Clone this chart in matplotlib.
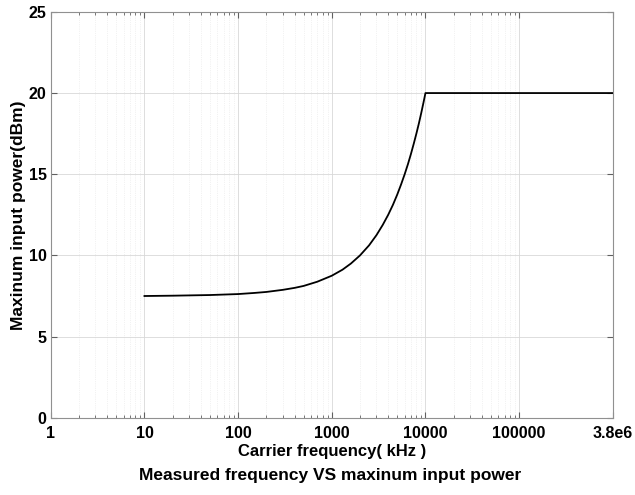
import matplotlib
matplotlib.use("Agg")
import matplotlib.pyplot as plt
from matplotlib.ticker import FixedLocator, NullFormatter

plt.rcParams['font.family'] = ['Liberation Sans', 'DejaVu Sans']
plt.rcParams['font.weight'] = 'bold'

# values (kHz, dBm)
freq = [10, 20, 50, 100, 150, 200, 300, 400, 500, 700, 1000, 1300, 1600,
        2000, 2500, 3000, 3500, 4000, 4500, 5000, 5500, 6000, 6500, 7000,
        7500, 8000, 8500, 9000, 9500, 10000, 1e6]
power = [7.5, 7.52, 7.56, 7.62, 7.69, 7.75, 7.88, 8.0, 8.12, 8.38, 8.75,
         9.12, 9.5, 10.0, 10.62, 11.25, 11.88, 12.5, 13.12, 13.75, 14.38,
         15.0, 15.62, 16.25, 16.88, 17.5, 18.12, 18.75, 19.38, 20.0, 20.0]

xticks = [1, 10, 100, 1000, 10000, 100000, 1e6]
xticklabels = ['1', '10', '100', '1000', '10000', '100000', '3.8e6']
yticks = [0, 5, 10, 15, 20, 25]

fig = plt.figure(figsize=(6.35, 4.95), dpi=100)
ax = fig.add_axes([0.080, 0.156, 0.885, 0.820])

ax.plot(freq, power, color='black', linewidth=1.3)

ax.set_xscale('log')
ax.set_xlim(1, 1e6)
ax.set_ylim(0, 25)
ax.xaxis.set_major_locator(FixedLocator(xticks))
ax.set_xticklabels(xticklabels)
minor = [m * 10 ** k for k in range(5) for m in range(2, 10)]
ax.xaxis.set_minor_locator(FixedLocator(minor))
ax.xaxis.set_minor_formatter(NullFormatter())
ax.set_yticks(yticks)

ax.grid(which='major', color='#d8d8d8', linewidth=0.6)
ax.grid(which='minor', axis='x', color='#e6e6e6', linewidth=0.5, linestyle=':')
ax.tick_params(which='both', direction='in', top=True, right=True,
               color='#606060', labelsize=11.5)
ax.tick_params(axis='x', which='major', length=4, pad=6)
ax.tick_params(axis='y', which='major', length=4, pad=3)
ax.tick_params(which='minor', length=2)
for s in ax.spines.values():
    s.set_color('#909090')
    s.set_linewidth(0.8)

ax.set_xlabel('Carrier frequency( kHz )', fontsize=12, fontweight='bold', labelpad=2)
ax.set_ylabel('Maxinum input power(dBm)', fontsize=12.5, fontweight='bold', labelpad=2)
fig.text(0.52, 0.040, 'Measured frequency VS maxinum input power',
         ha='center', va='center', fontsize=12.5, fontweight='bold')

fig.savefig('out.png', dpi=100)
